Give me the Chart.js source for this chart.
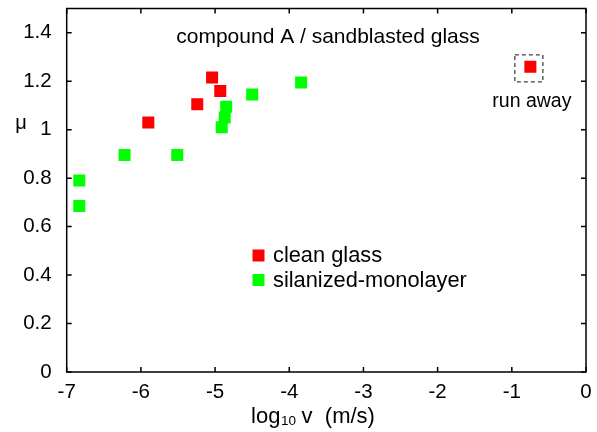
<!DOCTYPE html>
<html><head><meta charset="utf-8">
<script src="https://cdn.jsdelivr.net/npm/chart.js@4.4.0/dist/chart.umd.min.js"></script>
<style>html,body{margin:0;padding:0;background:#fff}#wrap{width:597px;height:432px}</style>
</head><body><div id="wrap"><canvas id="c" width="597" height="432"></canvas></div>
<script>
const cleanX = [-5.90, -5.24, -5.04, -4.93, -0.75];
const cleanY = [1.03, 1.105, 1.215, 1.16, 1.26];
const silX = [-6.83, -6.83, -6.22, -5.51, -4.91, -4.87, -4.85, -4.50, -3.84];
const silY = [0.79, 0.685, 0.895, 0.895, 1.01, 1.05, 1.095, 1.145, 1.195];
const xTicks = [-7, -6, -5, -4, -3, -2, -1, 0];
const yTicks = [0, 0.2, 0.4, 0.6, 0.8, 1, 1.2, 1.4];
const runAwayIndex = 4;
const FONT = '"Liberation Sans", Arial, sans-serif';

const pts = (xs, ys) => xs.map((x, i) => ({x, y: ys[i]}));

const overlay = {
  id: 'overlay',
  afterDraw(chart) {
    const {ctx, chartArea: a, scales: {x, y}} = chart;
    ctx.save();
    ctx.strokeStyle = '#000'; ctx.lineWidth = 1.5;
    ctx.strokeRect(a.left, a.top, a.right - a.left, a.bottom - a.top);
    const tl = 5;
    ctx.beginPath();
    xTicks.forEach(v => { const px = x.getPixelForValue(v);
      ctx.moveTo(px, a.bottom); ctx.lineTo(px, a.bottom - tl);
      ctx.moveTo(px, a.top); ctx.lineTo(px, a.top + tl); });
    yTicks.forEach(v => { const py = y.getPixelForValue(v);
      ctx.moveTo(a.left, py); ctx.lineTo(a.left + tl, py);
      ctx.moveTo(a.right, py); ctx.lineTo(a.right - tl, py); });
    ctx.stroke();
    // title
    ctx.fillStyle = '#000';
    ctx.font = '21px ' + FONT; ctx.textAlign = 'center'; ctx.textBaseline = 'alphabetic';
    ctx.fillText('compound A / sandblasted glass', 328, 43);
    // run away box
    const el = chart.getDatasetMeta(0).data[runAwayIndex];
    ctx.setLineDash([4, 3]); ctx.strokeStyle = '#444'; ctx.lineWidth = 1.3;
    ctx.strokeRect(el.x - 15.5, el.y - 11.7, 28, 27);
    ctx.setLineDash([]);
    ctx.font = '19.5px ' + FONT;
    ctx.fillText('run away', el.x + 1.5, el.y + 40);
    // legend
    ctx.textAlign = 'left';
    ctx.font = '21.8px ' + FONT;
    chart.data.datasets.forEach((ds, i) => {
      const ly = 255.5 + i * 24.5;
      ctx.fillStyle = ds.backgroundColor;
      ctx.fillRect(252.5, ly - 6, 12, 12);
      ctx.fillStyle = '#000';
      ctx.fillText(ds.label, 273, ly + 6.5);
    });
    // y label
    ctx.font = '20px ' + FONT; ctx.textAlign = 'center';
    ctx.fillText('μ', 21, 129);
    // x label with subscript
    const y0 = 423;
    const p1 = 'log', p2 = '10', p3 = ' v  (m/s)';
    ctx.font = '22px ' + FONT; const w1 = ctx.measureText(p1).width, w3 = ctx.measureText(p3).width;
    ctx.font = '13.5px ' + FONT; const w2 = ctx.measureText(p2).width;
    let sx = 313 - (w1 + w2 + w3) / 2;
    ctx.textAlign = 'left';
    ctx.font = '22px ' + FONT; ctx.fillText(p1, sx, y0);
    ctx.font = '13.5px ' + FONT; ctx.fillText(p2, sx + w1 + 0.5, y0 + 2);
    ctx.font = '22px ' + FONT; ctx.fillText(p3, sx + w1 + w2, y0);
    ctx.restore();
  }
};

new Chart(document.getElementById('c'), {
  type: 'scatter',
  data: { datasets: [
    { label: 'clean glass', data: pts(cleanX, cleanY), backgroundColor: '#ff0000', borderColor: '#ff0000',
      pointStyle: 'rect', pointRadius: 8.5, borderWidth: 0, pointHoverRadius: 8.5 },
    { label: 'silanized-monolayer', data: pts(silX, silY), backgroundColor: '#00ff00', borderColor: '#00ff00',
      pointStyle: 'rect', pointRadius: 8.5, borderWidth: 0, pointHoverRadius: 8.5 }
  ]},
  options: {
    responsive: false, animation: false,
    layout: { padding: { left: 0, right: 11, top: 6.7, bottom: 0 } },
    plugins: { legend: { display: false }, tooltip: { enabled: false } },
    scales: {
      x: { type: 'linear', min: -7, max: 0,
        afterBuildTicks: s => { s.ticks = xTicks.map(v => ({value: v})); },
        afterFit: s => { s.height = 60; s.paddingLeft = 0; s.paddingRight = 0; },
        grid: { display: false }, border: { display: false },
        ticks: { color: '#000', font: { family: FONT, size: 20.5 }, padding: 0, maxRotation: 0,
          callback: v => String(v) } },
      y: { type: 'linear', min: 0, max: 1.5,
        afterBuildTicks: s => { s.ticks = yTicks.map(v => ({value: v})); },
        afterFit: s => { s.width = 66.7; s.paddingTop = 0; s.paddingBottom = 0; },
        grid: { display: false }, border: { display: false },
        ticks: { color: '#000', font: { family: FONT, size: 20.5 }, padding: 7,
          callback: v => String(+Number(v).toFixed(1)) } }
    }
  },
  plugins: [overlay]
});
</script></body></html>
